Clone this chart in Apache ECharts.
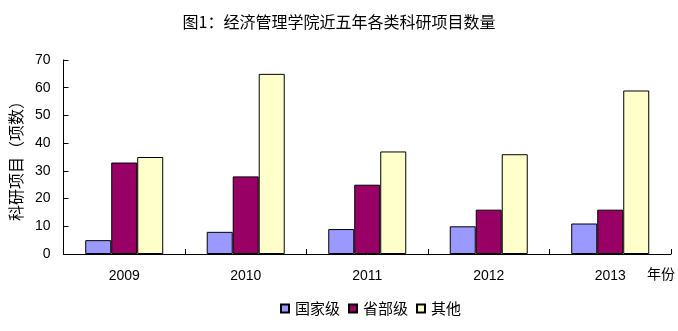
<!DOCTYPE html>
<html>
<head>
<meta charset="utf-8">
<script src="https://cdn.jsdelivr.net/npm/echarts@6/dist/echarts.min.js"></script>
<style>
  html, body { margin: 0; padding: 0; background: #fff; }
  #chart { width: 678px; height: 331px; }
</style>
</head>
<body>
<div id="chart"></div>
<script>
// Research projects of the School of Economics and Management, 2009-2013
const years = ['2009', '2010', '2011', '2012', '2013'];
const nationalLevel = [5, 8, 9, 10, 11];
const provincialLevel = [33, 28, 25, 16, 16];
const otherLevel = [35, 65, 37, 36, 59];
const seriesNames = ['国家级', '省部级', '其他'];
const yTicks = { min: 0, max: 70, step: 10 };

const FONT = '"Noto Sans CJK SC", "Noto Sans", sans-serif';
const NUM_FONT = '"Liberation Sans", Arial, sans-serif';
const chart = echarts.init(document.getElementById('chart'));

const barStyle = (color) => ({
  color: color,
  borderColor: '#000',
  borderWidth: 1
});

chart.setOption({
  animation: false,
  backgroundColor: '#fff',
  title: {
    text: '图1：经济管理学院近五年各类科研项目数量',
    left: 'center',
    top: 9,
    textStyle: { fontFamily: FONT, fontSize: 16, fontWeight: 'normal', color: '#000' }
  },
  legend: {
    data: seriesNames,
    bottom: 10,
    left: 275,
    itemWidth: 8,
    itemHeight: 8,
    itemGap: 8,
    icon: 'rect',
    textStyle: { fontFamily: FONT, fontSize: 15, color: '#000', padding: [0, 0, 0, 1] }
  },
  grid: { left: 60, right: 6, top: 60, bottom: 77 },
  xAxis: {
    type: 'category',
    data: years,
    boundaryGap: true,
    name: '年份',
    nameLocation: 'end',
    nameGap: 4,
    nameTextStyle: {
      fontFamily: FONT, fontSize: 14, color: '#000',
      align: 'right', verticalAlign: 'top', padding: [13, 0, 0, 0]
    },
    axisLine: { show: true, lineStyle: { color: '#000', width: 1 } },
    axisTick: { show: true, inside: true, length: 5, lineStyle: { color: '#000' } },
    axisLabel: { fontFamily: NUM_FONT, fontSize: 14, color: '#000', margin: 15 },
    splitLine: { show: false }
  },
  yAxis: {
    type: 'value',
    min: yTicks.min,
    max: yTicks.max,
    interval: yTicks.step,
    name: '科研项目（项数）',
    nameLocation: 'middle',
    nameGap: 37,
    nameRotate: 90,
    nameTextStyle: { fontFamily: FONT, fontSize: 16, color: '#000' },
    axisLine: { show: true, lineStyle: { color: '#000', width: 1 } },
    axisTick: { show: true, inside: true, length: 5, lineStyle: { color: '#000' } },
    axisLabel: { fontFamily: NUM_FONT, fontSize: 14, color: '#000', margin: 13 },
    splitLine: { show: false }
  },
  series: [
    { name: seriesNames[0], type: 'bar', data: nationalLevel, barWidth: 26, barGap: '0%', itemStyle: barStyle('#9999FF') },
    { name: seriesNames[1], type: 'bar', data: provincialLevel, barWidth: 26, barGap: '0%', itemStyle: barStyle('#990066') },
    { name: seriesNames[2], type: 'bar', data: otherLevel, barWidth: 26, barGap: '0%', itemStyle: barStyle('#FFFFCC') }
  ]
});
</script>
</body>
</html>
